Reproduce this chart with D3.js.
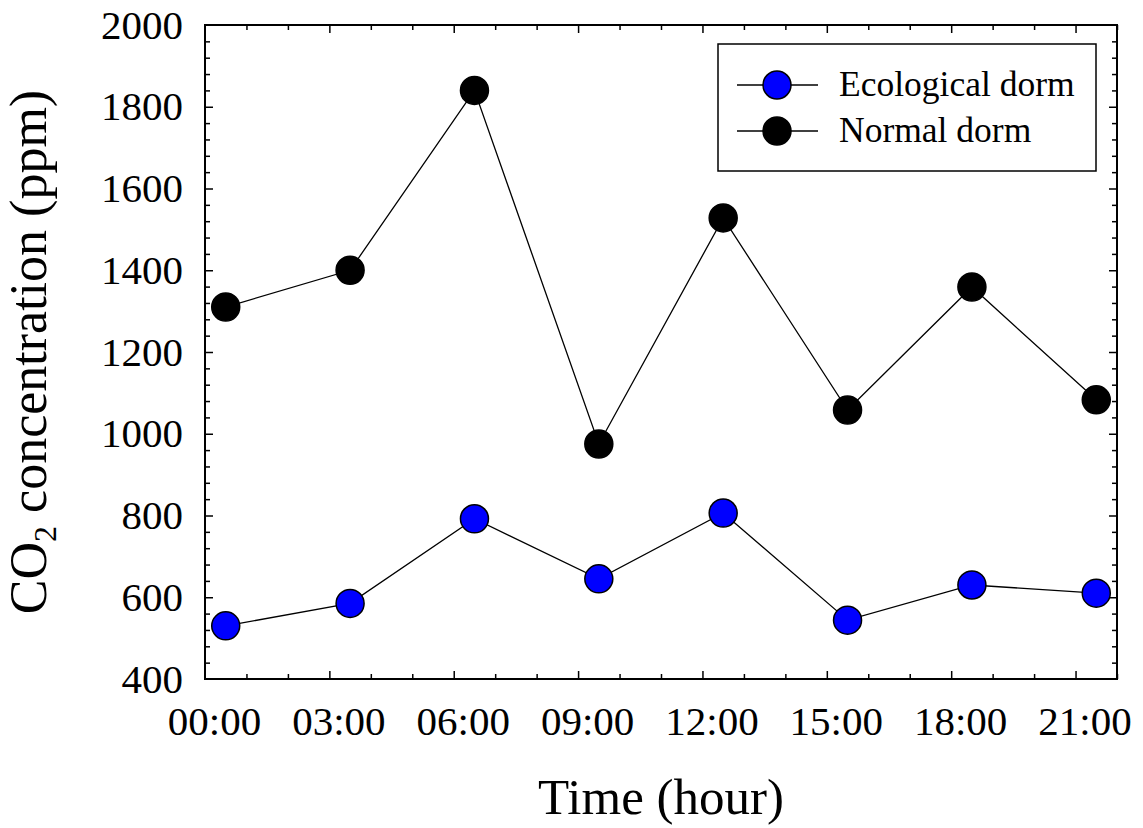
<!DOCTYPE html>
<meta charset="UTF-8">
<style>
body { margin: 0; background: #fff; }
text { font-family: "Liberation Serif", "Times New Roman", serif; fill: #000; }
.tick line { stroke: #000; stroke-width: 1.5px; }
.line { fill: none; stroke: #000; stroke-width: 1.3px; }
</style>
<body>
<script src="https://d3js.org/d3.v7.min.js"></script>
<script>
// data
var hours = [0, 3, 6, 9, 12, 15, 18, 21];
var tickLabels = ["00:00", "03:00", "06:00", "09:00", "12:00", "15:00", "18:00", "21:00"];
var ecological = [530, 585, 792, 645, 806, 544, 630, 610];
var normal = [1310, 1400, 1840, 975, 1528, 1058, 1359, 1083];
var seriesNames = ["Ecological dorm", "Normal dorm"];
var seriesColors = ["#0000ff", "#000000"];

var width = 1143, height = 828;
var margin = {top: 25, right: 26, bottom: 149, left: 205};

var svg = d3.select("body").append("svg")
    .attr("width", width)
    .attr("height", height);

var x = d3.scaleLinear().domain([0, 22]).range([margin.left, width - margin.right]);
var y = d3.scaleLinear().domain([400, 2000]).range([height - margin.bottom, margin.top]);

var x0 = x.range()[0], x1 = x.range()[1], y0 = y.range()[0], y1 = y.range()[1];

// minor ticks on all four sides
var minorX = d3.range(0, 23, 1).filter(function(d) { return d % 3 != 0; });
var minorY = d3.range(400, 2001, 40).filter(function(d) { return d % 200 != 0; });
var majorX = d3.range(3, 22, 3);
var majorY = d3.range(600, 2000, 200);

function drawTicks(gen, tr) {
  var g = svg.append("g").attr("transform", tr).call(gen);
  g.select(".domain").remove();
  g.attr("font-family", null).attr("font-size", null);
  return g;
}

drawTicks(d3.axisBottom(x).tickValues(minorX).tickSize(-5).tickFormat(""), "translate(0," + y0 + ")");
drawTicks(d3.axisTop(x).tickValues(minorX).tickSize(-5).tickFormat(""), "translate(0," + y1 + ")");
drawTicks(d3.axisBottom(x).tickValues(majorX).tickSize(-8).tickFormat(""), "translate(0," + y0 + ")");
drawTicks(d3.axisTop(x).tickValues(majorX).tickSize(-8).tickFormat(""), "translate(0," + y1 + ")");
drawTicks(d3.axisLeft(y).tickValues(minorY).tickSize(-5).tickFormat(""), "translate(" + x0 + ",0)");
drawTicks(d3.axisRight(y).tickValues(minorY).tickSize(-5).tickFormat(""), "translate(" + x1 + ",0)");
drawTicks(d3.axisLeft(y).tickValues(majorY).tickSize(-8).tickFormat(""), "translate(" + x0 + ",0)");
drawTicks(d3.axisRight(y).tickValues(majorY).tickSize(-8).tickFormat(""), "translate(" + x1 + ",0)");

// tick labels
var xLab = drawTicks(d3.axisBottom(x).tickValues(hours).tickSize(0).tickPadding(27)
    .tickFormat(function(d, i) { return tickLabels[i]; }), "translate(0," + y0 + ")");
xLab.selectAll("text").attr("dx", 9).style("font-size", "41px");

var yLab = drawTicks(d3.axisLeft(y).tickValues(d3.range(400, 2001, 200)).tickSize(0).tickPadding(22)
    .tickFormat(d3.format("d")), "translate(" + x0 + ",0)");
yLab.selectAll("text").style("font-size", "41px");

// frame
svg.append("rect")
    .attr("x", x0).attr("y", y1)
    .attr("width", x1 - x0).attr("height", y0 - y1)
    .attr("fill", "none").attr("stroke", "#000").attr("stroke-width", 2);

// lines and markers
var series = [ecological, normal];
var line = d3.line()
    .x(function(d, i) { return x(hours[i] + 0.5); })
    .y(function(d) { return y(d); });

series.forEach(function(vals, s) {
  svg.append("path").datum(vals).attr("class", "line").attr("d", line);
  svg.selectAll(".pt" + s)
      .data(vals)
    .enter().append("circle")
      .attr("class", "pt" + s)
      .attr("cx", function(d, i) { return x(hours[i] + 0.5); })
      .attr("cy", function(d) { return y(d); })
      .attr("r", 14)
      .attr("fill", seriesColors[s])
      .attr("stroke", "#000")
      .attr("stroke-width", 1.5);
});

// axis titles
svg.append("text")
    .attr("x", (x0 + x1) / 2).attr("y", 814)
    .attr("text-anchor", "middle")
    .style("font-size", "51px")
    .text("Time (hour)");

var yt = svg.append("text")
    .attr("transform", "translate(46,352) rotate(-90)")
    .attr("text-anchor", "middle")
    .style("font-size", "52px");
yt.append("tspan").text("CO");
yt.append("tspan").attr("dy", 10).style("font-size", "32px").text("2");
yt.append("tspan").attr("dy", -10).text(" concentration (ppm)");

// legend
var lg = svg.append("g");
lg.append("rect")
    .attr("x", 718).attr("y", 44).attr("width", 378).attr("height", 127)
    .attr("fill", "#fff").attr("stroke", "#000").attr("stroke-width", 1.5);
seriesNames.forEach(function(name, s) {
  var cy = 85 + s * 46;
  lg.append("line").attr("x1", 737).attr("x2", 818).attr("y1", cy).attr("y2", cy)
      .attr("stroke", "#000").attr("stroke-width", 1.3);
  lg.append("circle").attr("cx", 777).attr("cy", cy).attr("r", 14)
      .attr("fill", seriesColors[s]).attr("stroke", "#000").attr("stroke-width", 1.5);
  lg.append("text").attr("x", 839).attr("y", cy + 11)
      .style("font-size", "35.5px").text(name);
});
</script>
</body>
